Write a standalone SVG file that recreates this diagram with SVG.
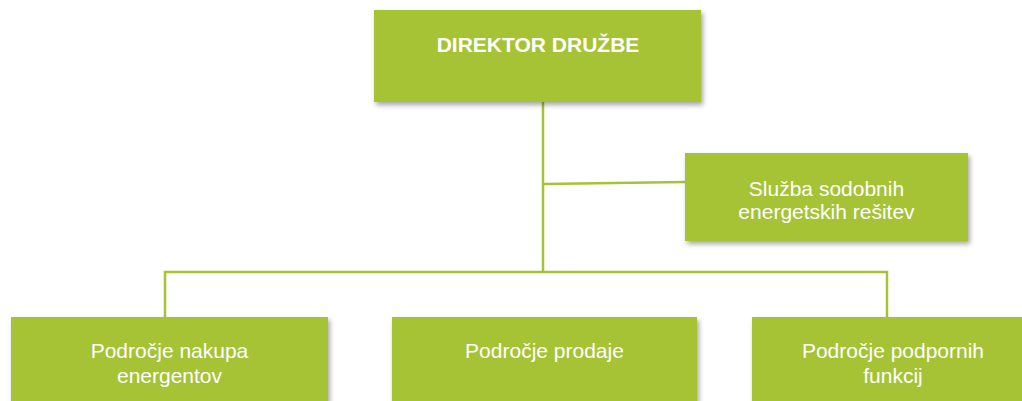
<svg xmlns="http://www.w3.org/2000/svg" width="1022" height="401" viewBox="0 0 1022 401">
  <style>
    .box { fill: #A6C334; filter: url(#sh); }
    .lbl { font-family: "Liberation Sans", Arial, sans-serif; font-size: 21px; fill: #ffffff; text-anchor: middle; }
    .bold { font-weight: bold; }
    .conn { fill: none; stroke: #A6C334; stroke-width: 2.5; }
  </style>
  <defs>
    <filter id="sh" x="-10%" y="-10%" width="130%" height="130%">
      <feDropShadow dx="2" dy="3" stdDeviation="2.5" flood-color="#000000" flood-opacity="0.35"/>
    </filter>
  </defs>
  <rect width="1022" height="401" fill="#ffffff"/>
  <g id="connectors">
    <path class="conn" d="M543 102 V272"/>
    <path class="conn" d="M544 184 L685 182"/>
    <path class="conn" d="M165 317 V272 H887 V317"/>
  </g>
  <g id="node-director">
    <rect class="box" x="374" y="10" width="327" height="92"/>
    <text class="lbl bold" x="538" y="52">DIREKTOR DRUŽBE</text>
  </g>
  <g id="node-sluzba">
    <rect class="box" x="685" y="153" width="283" height="88"/>
    <text class="lbl" x="826.5" y="196">Služba sodobnih</text>
    <text class="lbl" x="826.5" y="219">energetskih rešitev</text>
  </g>
  <g id="node-nakup">
    <rect class="box" x="11" y="317" width="317" height="100"/>
    <text class="lbl" x="169.5" y="357.5">Področje nakupa</text>
    <text class="lbl" x="169.5" y="382.5">energentov</text>
  </g>
  <g id="node-prodaja">
    <rect class="box" x="392" y="317" width="305" height="100"/>
    <text class="lbl" x="544.5" y="357.5">Področje prodaje</text>
  </g>
  <g id="node-podporne">
    <rect class="box" x="752" y="317" width="282" height="100"/>
    <text class="lbl" x="893" y="357.5">Področje podpornih</text>
    <text class="lbl" x="893" y="382.5">funkcij</text>
  </g>
</svg>
